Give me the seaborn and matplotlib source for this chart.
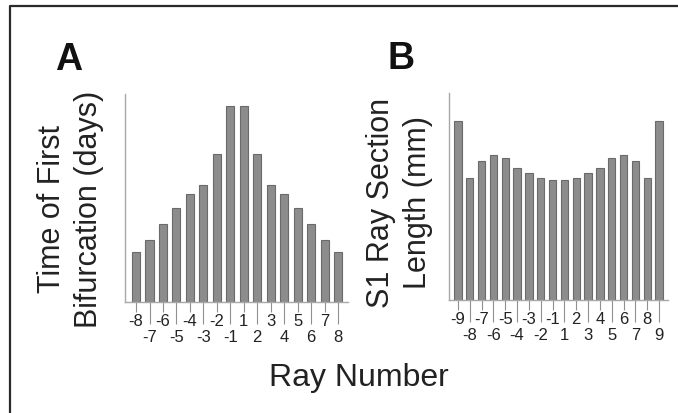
import matplotlib
matplotlib.use("Agg")
import matplotlib.pyplot as plt
import seaborn as sns
import pandas as pd
from matplotlib.lines import Line2D

# ---- data ----
rays_a = ["-8", "-7", "-6", "-5", "-4", "-3", "-2", "-1", "1", "2", "3", "4", "5", "6", "7", "8"]
time_first_bif = [1.50, 1.85, 2.35, 2.82, 3.25, 3.52, 4.45, 5.88, 5.88, 4.45, 3.52, 3.25, 2.82, 2.35, 1.85, 1.50]

rays_b = ["-9", "-8", "-7", "-6", "-5", "-4", "-3", "-2", "-1", "1", "2", "3", "4", "5", "6", "7", "8", "9"]
s1_length = [5.38, 3.65, 4.16, 4.36, 4.26, 3.97, 3.81, 3.66, 3.59, 3.59, 3.66, 3.81, 3.97, 4.26, 4.36, 4.16, 3.65, 5.38]

ylabel_a = ["Time of First", "Bifurcation (days)"]
ylabel_b = ["S1 Ray Section", "Length (mm)"]
xlabel = "Ray Number"

sns.set_theme(style="white")
plt.rcParams["font.family"] = ["Liberation Sans", "DejaVu Sans"]

W, H = 678, 414
fig = plt.figure(figsize=(W / 100, H / 100), dpi=100)

def fx(px):
    return px / W

def fy(py):
    return 1 - py / H

BAR = "#8c8c8c"
EDGE = "#6a6a6a"
AXC = "#a8a8a8"

def panel(rect, cats, vals, width, xlim, ytop):
    ax = fig.add_axes(rect)
    df = pd.DataFrame({"ray": cats, "val": vals})
    sns.barplot(data=df, x="ray", y="val", order=cats, color=BAR, saturation=1,
                width=width, edgecolor=EDGE, linewidth=0.8, ax=ax)
    ax.set_xlim(*xlim)
    ax.set_ylim(0, ytop)
    ax.set_xlabel("")
    ax.set_ylabel("")
    ax.set_yticks([])
    for s in ["top", "right"]:
        ax.spines[s].set_visible(False)
    for s in ["left", "bottom"]:
        ax.spines[s].set_color(AXC)
        ax.spines[s].set_linewidth(1.0)
    n = len(cats)
    ev = list(range(0, n, 2))
    od = list(range(1, n, 2))
    ax.set_xticks(ev, [cats[i] for i in ev])
    ax.set_xticks(od, [cats[i] for i in od], minor=True)
    ax.tick_params(axis="x", which="major", length=7.2, width=0.8, color="#909090",
                   pad=0.8, labelsize=12, labelcolor="#222222", bottom=True)
    ax.tick_params(axis="x", which="minor", length=15.5, width=0.8, color="#909090",
                   pad=4.0, labelsize=12, labelcolor="#222222", bottom=True)
    return ax

# Panel A
panel([fx(125), fy(303), fx(348) - fx(125), (303 - 95) / H],
      rays_a, time_first_bif, 0.6, (-0.82, 15.74), 6.25)
# Panel B
panel([fx(449), fy(301), fx(668) - fx(449), (301 - 94) / H],
      rays_b, s1_length, 0.62, (-0.76, 17.76), 6.21)

TXT = "#222222"
fig.text(fx(52), fy(209), ylabel_a[0], rotation=90, ha="center", va="center", fontsize=22, color=TXT)
fig.text(fx(89), fy(209), ylabel_a[1], rotation=90, ha="center", va="center", fontsize=22, color=TXT)
fig.text(fx(381), fy(203), ylabel_b[0], rotation=90, ha="center", va="center", fontsize=22, color=TXT)
fig.text(fx(418), fy(203), ylabel_b[1], rotation=90, ha="center", va="center", fontsize=22, color=TXT)
fig.text(fx(359), fy(378), xlabel, ha="center", va="center", fontsize=23, color=TXT)

fig.text(fx(55), fy(70), "A", ha="left", va="baseline", fontsize=27, fontweight="bold", color="#111111")
fig.text(fx(387), fy(69), "B", ha="left", va="baseline", fontsize=27, fontweight="bold", color="#111111")

# outer frame (clipped at right and bottom)
fig.add_artist(Line2D([fx(10), fx(10), 1.0], [0.0, fy(7), fy(7)],
                      transform=fig.transFigure, color="#2a2a2a", linewidth=1.6))

fig.savefig("out.png", dpi=100)
